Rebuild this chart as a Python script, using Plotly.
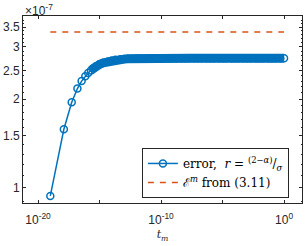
import plotly.graph_objects as go

# data
t_m = [1e-19, 1.26e-18, 5.5e-18, 1.6e-17, 3.5e-17, 7e-17, 1.2e-16, 2e-16, 3e-16, 5e-16,
       1e-15, 2e-15, 5e-15, 1e-14, 2e-14, 5e-14, 1e-13, 2e-13, 5e-13,
       1e-12, 2e-12, 5e-12, 1e-11, 2e-11, 5e-11, 1e-10, 2e-10, 5e-10,
       1e-9, 2e-9, 5e-9, 1e-8, 2e-8, 5e-8, 1e-7, 2e-7, 5e-7,
       1e-6, 2e-6, 5e-6, 1e-5, 2e-5, 5e-5, 1e-4, 2e-4, 5e-4,
       1e-3, 2e-3, 5e-3, 1e-2, 2e-2, 5e-2, 1e-1, 2e-1, 5e-1, 1.0]
err = [0.94e-7, 1.58e-7, 1.95e-7, 2.17e-7, 2.30e-7, 2.39e-7, 2.45e-7, 2.50e-7, 2.54e-7, 2.58e-7,
       2.62e-7, 2.65e-7, 2.68e-7, 2.70e-7, 2.715e-7, 2.725e-7, 2.73e-7, 2.735e-7, 2.74e-7,
       2.742e-7, 2.744e-7, 2.745e-7, 2.746e-7, 2.746e-7, 2.747e-7, 2.747e-7, 2.748e-7, 2.748e-7,
       2.748e-7, 2.748e-7, 2.749e-7, 2.749e-7, 2.749e-7, 2.749e-7, 2.75e-7, 2.75e-7, 2.75e-7,
       2.75e-7, 2.75e-7, 2.75e-7, 2.75e-7, 2.75e-7, 2.75e-7, 2.75e-7, 2.75e-7, 2.75e-7,
       2.75e-7, 2.75e-7, 2.75e-7, 2.75e-7, 2.75e-7, 2.75e-7, 2.75e-7, 2.75e-7, 2.75e-7, 2.75e-7]
dense_start = 7  # from here on the markers overlap into a solid band
bound_t = [1e-19, 1.0]
bound_val = [3.37e-7, 3.37e-7]

y_ticks = [1e-7, 1.5e-7, 2e-7, 2.5e-7, 3e-7, 3.5e-7]
y_ticktext = ["1", "1.5", "2", "2.5", "3", "3.5"]
y_minor = [0.9e-7, 1.1e-7, 1.2e-7, 1.3e-7, 1.4e-7, 1.6e-7, 1.7e-7, 1.8e-7, 1.9e-7,
           2.1e-7, 2.2e-7, 2.3e-7, 2.4e-7, 2.6e-7, 2.7e-7, 2.8e-7, 2.9e-7,
           3.1e-7, 3.2e-7, 3.3e-7, 3.4e-7, 3.6e-7, 3.7e-7, 3.8e-7]
x_ticks = [1e-20, 1e-15, 1e-10, 1e-5, 1.0]
x_ticktext = ["10<sup>-20</sup>", "", "10<sup>-10</sup>", "", "10<sup>0</sup>"]

BLUE = "#0072BD"
ORANGE = "#D95319"
AX = "#262626"
SERIF = "DejaVu Serif"
SANS = "Liberation Sans"

fig = go.Figure()
# solid band formed by the densely packed markers
fig.add_trace(go.Scatter(
    x=t_m[dense_start:], y=err[dense_start:], mode="lines",
    line=dict(color=BLUE, width=9), showlegend=False, hoverinfo="skip",
))
fig.add_trace(go.Scatter(
    x=t_m, y=err, mode="lines+markers",
    line=dict(color=BLUE, width=1.5),
    marker=dict(symbol="circle-open", size=7, color=BLUE, line=dict(width=1.5, color=BLUE)),
    name="error,  <i>r</i> = <sup>(2\u2212<i>\u03b1</i>)</sup>/<sub><i>\u03c3</i></sub>",
))
fig.add_trace(go.Scatter(
    x=bound_t, y=bound_val, mode="lines",
    line=dict(color=ORANGE, width=1.5, dash="6px,6px"),
    name="\u2130<sup><i>m</i></sup> from (3.11)",
))

fig.update_layout(
    width=305, height=246,
    margin=dict(l=23, r=3, t=16, b=43, autoexpand=False),
    paper_bgcolor="white", plot_bgcolor="white",
    showlegend=True,
    legend=dict(
        x=0.953, y=0.027, xanchor="right", yanchor="bottom",
        bgcolor="white", bordercolor=AX, borderwidth=1,
        font=dict(family=SERIF, size=12, color="black"),
        tracegroupgap=0, itemwidth=30,
    ),
    font=dict(family=SANS, size=12, color=AX),
)
fig.update_xaxes(
    type="log", range=[-21.22, 1.46], automargin=False,
    tickmode="array", tickvals=x_ticks, ticktext=x_ticktext,
    ticks="inside", ticklen=3, tickcolor=AX, tickwidth=0.8,
    ticklabelstandoff=6,
    showline=True, linecolor=AX, linewidth=0.8, mirror="ticks",
    showgrid=False, zeroline=False,
    tickfont=dict(family=SANS, size=12, color=AX),
    title=dict(text="<i>t<sub>m</sub></i>", font=dict(family=SERIF, size=11, color=AX), standoff=4),
)
fig.update_yaxes(
    type="log", range=[-7.0508, -6.418], automargin=False,
    tickmode="array", tickvals=y_ticks, ticktext=y_ticktext,
    ticks="inside", ticklen=3, tickcolor=AX, tickwidth=0.8,
    showline=True, linecolor=AX, linewidth=0.8, mirror="ticks",
    showgrid=False, zeroline=False,
    tickfont=dict(family=SANS, size=12, color=AX),
    minor=dict(tickvals=y_minor, ticks="inside", ticklen=1.5, tickcolor=AX, tickwidth=0.6),
)
fig.add_annotation(
    text="\u00d710<sup>-7</sup>", xref="paper", yref="paper", x=0, y=1,
    xanchor="left", yanchor="bottom", showarrow=False,
    font=dict(family=SANS, size=12, color=AX), yshift=-4,
)
fig.write_html("out.html", config={"displayModeBar": False},
               post_script="document.body.style.margin='0';")
